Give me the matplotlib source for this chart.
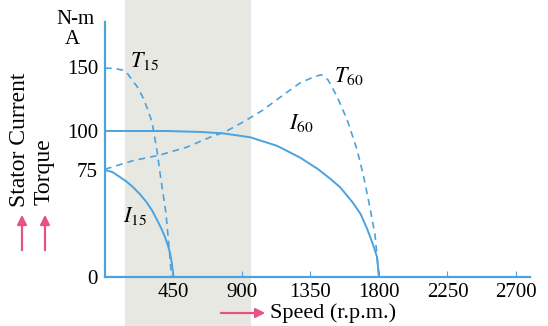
import numpy as np
import matplotlib
matplotlib.use("Agg")
import matplotlib.pyplot as plt
from matplotlib.patches import Rectangle

plt.rcParams['font.family'] = ['Liberation Serif', 'DejaVu Serif']
plt.rcParams['mathtext.fontset'] = 'stix'

# curves (speed in r.p.m., torque N-m / current A)
speed_i15 = [0, 50, 99, 140, 184, 230, 276, 310, 342, 370, 394, 412, 427, 440, 450]
i15 = [75, 73.5, 70, 67, 63, 58, 52, 46.5, 40, 34, 28, 22.5, 17, 9, 0]

speed_t15 = [0, 60, 118, 150, 177, 215, 250, 280, 309, 342, 368, 400, 420, 437]
t15 = [149, 149, 147.5, 144.5, 140, 134, 126, 117, 107, 87, 68, 45, 22, 0]

speed_i60 = [0, 400, 624, 775, 953, 1130, 1281, 1400, 1478, 1544, 1629, 1680, 1721, 1760, 1787, 1800]
i60 = [100, 100, 99.4, 98.5, 96, 90.5, 83, 75.5, 69, 63, 52, 44, 34, 23, 14, 0]

speed_t60 = [0, 184, 361, 539, 690, 788, 907, 1038, 1169, 1281, 1366, 1420, 1465, 1524, 1590, 1656, 1700, 1741, 1774, 1800]
t60 = [75.5, 81, 84.6, 89.7, 96, 99.4, 107, 116.4, 128, 137.5, 142, 144, 140, 127, 109, 88, 70, 48.4, 29.4, 0]

xticks = [450, 900, 1350, 1800, 2250, 2700]
yticks = [0, 75, 100, 150]

# the drawn axis is not evenly spaced: map values to drawn heights
yv = [-100, 0, 75, 100, 150, 250]
yh = [-142.7, 0, 107, 146, 210, 338]

def fwd(v):
    return np.interp(v, yv, yh)

def inv(h):
    return np.interp(h, yh, yv)

blue = '#4aa3df'
pink = '#e8508a'

fig = plt.figure(figsize=(5.48, 3.26), dpi=100)
fig.patches.append(Rectangle((125 / 548, 0), 125 / 548, 1, transform=fig.transFigure,
                             color='#e8e8e3', zorder=-10))
ax = fig.add_axes([105 / 548, 49 / 326, 425 / 548, 255 / 326])
ax.patch.set_alpha(0)

ax.plot(speed_i15, i15, color=blue, lw=1.4)
ax.plot(speed_i60, i60, color=blue, lw=1.4)
ax.plot(speed_t15, t15, color=blue, lw=1.2, ls=(0, (4, 3)))
ax.plot(speed_t60, t60, color=blue, lw=1.2, ls=(0, (4, 3)))

ax.set_yscale('function', functions=(fwd, inv))
ax.set_xlim(0, 2792)
ax.set_ylim(0, inv(255))
ax.set_xticks(xticks)
ax.set_yticks(yticks)
ax.tick_params(axis='x', direction='in', length=4, color=blue, labelsize=15, pad=4)
ax.tick_params(axis='y', direction='out', length=0, color=blue, labelsize=15, pad=5)
for s in ['top', 'right']:
    ax.spines[s].set_visible(False)
for s in ['left', 'bottom']:
    ax.spines[s].set_color(blue)
    ax.spines[s].set_linewidth(1.6)

ax.text(260, 155, r'$T_{15}$', fontsize=16, ha='center', va='center')
ax.text(1600, 143, r'$T_{60}$', fontsize=16, ha='center', va='center')
ax.text(1290, 106, r'$I_{60}$', fontsize=16, ha='center', va='center')
ax.text(195, 43, r'$I_{15}$', fontsize=16, ha='center', va='center')

fig.text(75 / 548, 1 - 20 / 326, 'N-m', fontsize=15, ha='center', va='center')
fig.text(72 / 548, 1 - 40 / 326, 'A', fontsize=15, ha='center', va='center')
fig.text(20 / 548, 1 - 207 / 326, 'Stator Current', fontsize=17, rotation=90,
         ha='center', va='bottom')
fig.text(44 / 548, 1 - 205 / 326, 'Torque', fontsize=17, rotation=90,
         ha='center', va='bottom')
fig.text(270 / 548, 1 - 313 / 326, 'Speed (r.p.m.)', fontsize=16, ha='left', va='center')

arrow = dict(arrowstyle='-|>', color=pink, lw=1.6, mutation_scale=14)
for xa in [22, 45]:
    ax.annotate('', xy=(xa / 548, 1 - 212 / 326), xytext=(xa / 548, 1 - 253 / 326),
                xycoords='figure fraction', arrowprops=arrow)
ax.annotate('', xy=(268 / 548, 1 - 313 / 326), xytext=(218 / 548, 1 - 313 / 326),
            xycoords='figure fraction', arrowprops=arrow)

fig.savefig('out.png', dpi=100)
